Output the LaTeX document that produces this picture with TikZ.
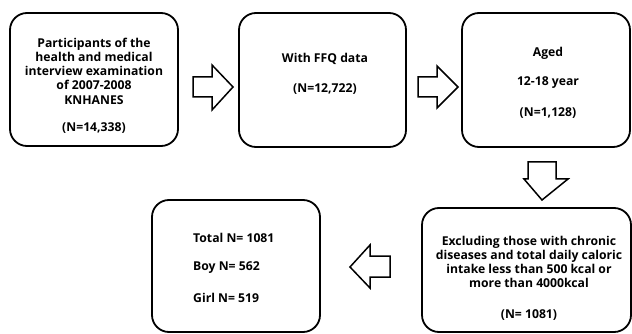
\documentclass[tikz,border=0pt]{standalone}
\usepackage{fontspec}
\setmainfont{Open Sans}
\begin{document}
\begin{tikzpicture}[x=1pt,y=-1pt,
  box/.style={draw=black,line width=1.8pt,rounded corners=17pt},
  blk/.style={draw=black,line width=1.5pt,fill=white,line join=miter},
  txt/.style={font=\fontsize{12.2}{14.2}\selectfont\bfseries,align=center,inner sep=0pt}]
\useasboundingbox (0,0) rectangle (632,334);
\draw[box] (10,13) rectangle (178,146);
\draw[box] (239,13) rectangle (406,147);
\draw[box] (462,13) rectangle (630,147);
\draw[box] (422,208) rectangle (631,332);
\draw[box] (152,200) rectangle (320,332);
% texts
\node[txt] (t1) at (94,71) {Participants of the\\health and medical\\interview examination\\of 2007-2008\\KNHANES};
\node[txt] (n1) at (94,128) {(N=14,338)};
\node[txt] (t2) at (325,59) {With FFQ data};
\node[txt] (n2) at (325,89) {(N=12,722)};
\node[txt] (t3a) at (548,53) {Aged};
\node[txt] (t3b) at (548,83) {12-18 year};
\node[txt] (n3) at (548,113) {(N=1,128)};
\node[txt] (t4) at (529,262) {Excluding those with chronic\\diseases and total daily caloric\\intake less than 500 kcal or\\more than 4000kcal};
\node[txt] (n4) at (529,315) {(N= 1081)};
\node[txt,anchor=west] (s1) at (193,238) {Total N= 1081};
\node[txt,anchor=west] (s2) at (193,268) {Boy N= 562};
\node[txt,anchor=west] (s3) at (193,298) {Girl N= 519};
% block arrows
\draw[blk] (193,77) -- (212,77) -- (212,65) -- (233,87) -- (212,110) -- (212,97) -- (193,97) -- cycle;
\draw[blk] (418,77) -- (437,77) -- (437,66) -- (458,87) -- (437,108) -- (437,97) -- (418,97) -- cycle;
\draw[blk] (528,162) -- (556,162) -- (556,179) -- (568,179) -- (542,200) -- (524,179) -- (528,179) -- cycle;
\draw[blk] (390,256) -- (370,256) -- (370,245) -- (350,267) -- (370,288) -- (370,277) -- (390,277) -- cycle;
\end{tikzpicture}
\end{document}
